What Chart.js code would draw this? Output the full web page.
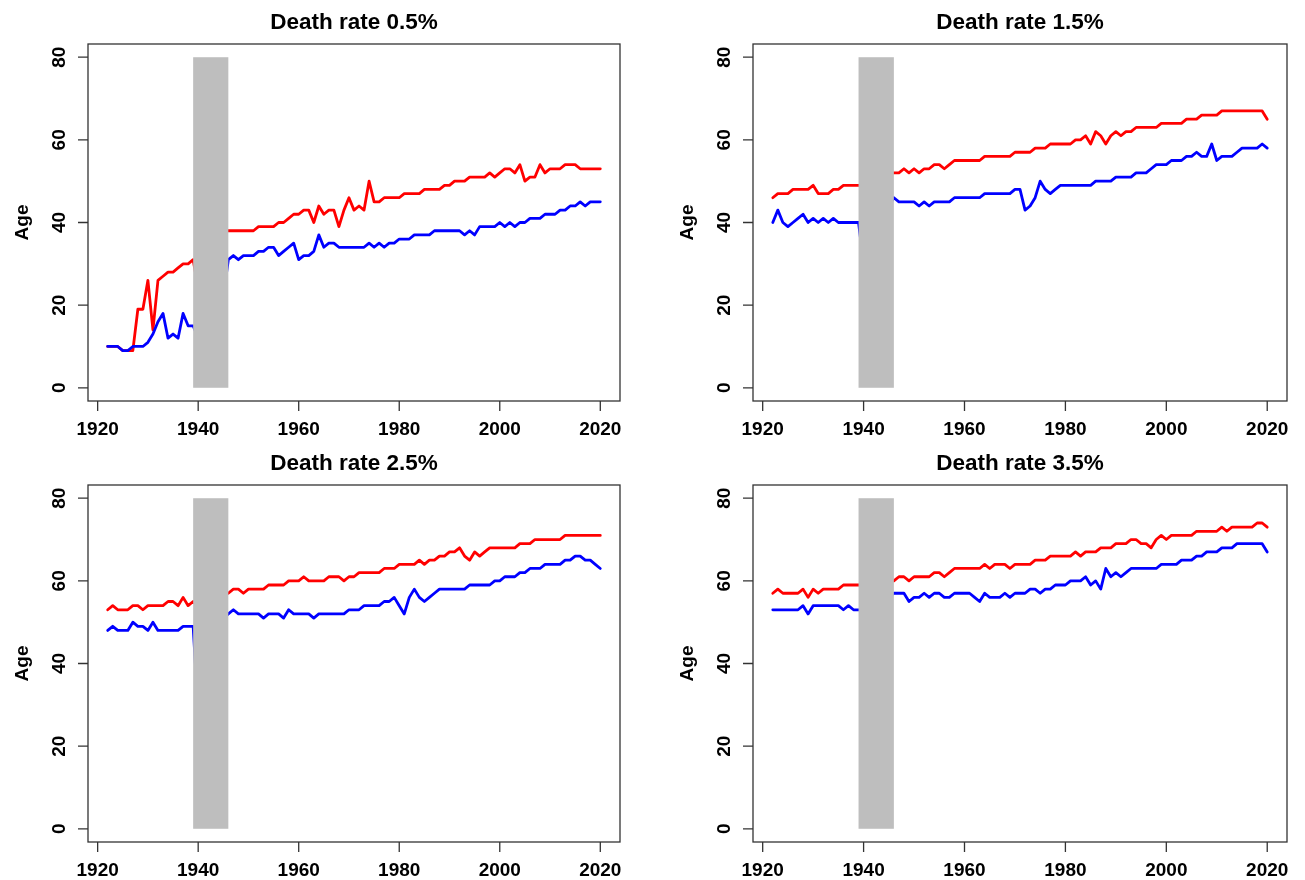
<!DOCTYPE html>
<html>
<head>
<meta charset="utf-8">
<title>Death rate panels</title>
<script src="https://cdn.jsdelivr.net/npm/chart.js@4/dist/chart.umd.min.js"></script>
<style>
  body { margin: 0; background: #fff; }
  #wrap { position: relative; width: 1305px; height: 880px; }
  canvas { position: absolute; }
</style>
</head>
<body>
<div id="wrap">
  <canvas id="p1" width="652" height="440" style="left:0;top:0"></canvas>
  <canvas id="p2" width="640" height="440" style="left:665px;top:0"></canvas>
  <canvas id="p3" width="652" height="439" style="left:0;top:441px"></canvas>
  <canvas id="p4" width="640" height="439" style="left:665px;top:441px"></canvas>
</div>
<script>
const years = [
  1922, 1923, 1924, 1925, 1926, 1927, 1928, 1929, 1930, 1931,
  1932, 1933, 1934, 1935, 1936, 1937, 1938, 1939, 1940, 1941,
  1942, 1943, 1944, 1945, 1946, 1947, 1948, 1949, 1950, 1951,
  1952, 1953, 1954, 1955, 1956, 1957, 1958, 1959, 1960, 1961,
  1962, 1963, 1964, 1965, 1966, 1967, 1968, 1969, 1970, 1971,
  1972, 1973, 1974, 1975, 1976, 1977, 1978, 1979, 1980, 1981,
  1982, 1983, 1984, 1985, 1986, 1987, 1988, 1989, 1990, 1991,
  1992, 1993, 1994, 1995, 1996, 1997, 1998, 1999, 2000, 2001,
  2002, 2003, 2004, 2005, 2006, 2007, 2008, 2009, 2010, 2011,
  2012, 2013, 2014, 2015, 2016, 2017, 2018, 2019, 2020
];

// death rate 0.5%
const red05 = [
  10, 10, 10, 9, 9, 9, 19, 19, 26, 14,
  26, 27, 28, 28, 29, 30, 30, 31, 24, 33,
  35, 36, 37, 38, 38, 38, 38, 38, 38, 38,
  39, 39, 39, 39, 40, 40, 41, 42, 42, 43,
  43, 40, 44, 42, 43, 43, 39, 43, 46, 43,
  44, 43, 50, 45, 45, 46, 46, 46, 46, 47,
  47, 47, 47, 48, 48, 48, 48, 49, 49, 50,
  50, 50, 51, 51, 51, 51, 52, 51, 52, 53,
  53, 52, 54, 50, 51, 51, 54, 52, 53, 53,
  53, 54, 54, 54, 53, 53, 53, 53, 53
];
const blue05 = [
  10, 10, 10, 9, 9, 10, 10, 10, 11, 13,
  16, 18, 12, 13, 12, 18, 15, 15, 12, 20,
  24, 27, 29, 22, 31, 32, 31, 32, 32, 32,
  33, 33, 34, 34, 32, 33, 34, 35, 31, 32,
  32, 33, 37, 34, 35, 35, 34, 34, 34, 34,
  34, 34, 35, 34, 35, 34, 35, 35, 36, 36,
  36, 37, 37, 37, 37, 38, 38, 38, 38, 38,
  38, 37, 38, 37, 39, 39, 39, 39, 40, 39,
  40, 39, 40, 40, 41, 41, 41, 42, 42, 42,
  43, 43, 44, 44, 45, 44, 45, 45, 45
];

// death rate 1.5%
const red15 = [
  46, 47, 47, 47, 48, 48, 48, 48, 49, 47,
  47, 47, 48, 48, 49, 49, 49, 49, 49, 50,
  50, 51, 51, 52, 52, 52, 53, 52, 53, 52,
  53, 53, 54, 54, 53, 54, 55, 55, 55, 55,
  55, 55, 56, 56, 56, 56, 56, 56, 57, 57,
  57, 57, 58, 58, 58, 59, 59, 59, 59, 59,
  60, 60, 61, 59, 62, 61, 59, 61, 62, 61,
  62, 62, 63, 63, 63, 63, 63, 64, 64, 64,
  64, 64, 65, 65, 65, 66, 66, 66, 66, 67,
  67, 67, 67, 67, 67, 67, 67, 67, 65
];
const blue15 = [
  40, 43, 40, 39, 40, 41, 42, 40, 41, 40,
  41, 40, 41, 40, 40, 40, 40, 40, 30, 38,
  41, 43, 44, 44, 46, 45, 45, 45, 45, 44,
  45, 44, 45, 45, 45, 45, 46, 46, 46, 46,
  46, 46, 47, 47, 47, 47, 47, 47, 48, 48,
  43, 44, 46, 50, 48, 47, 48, 49, 49, 49,
  49, 49, 49, 49, 50, 50, 50, 50, 51, 51,
  51, 51, 52, 52, 52, 53, 54, 54, 54, 55,
  55, 55, 56, 56, 57, 56, 56, 59, 55, 56,
  56, 56, 57, 58, 58, 58, 58, 59, 58
];

// death rate 2.5%
const red25 = [
  53, 54, 53, 53, 53, 54, 54, 53, 54, 54,
  54, 54, 55, 55, 54, 56, 54, 55, 54, 55,
  56, 56, 57, 57, 57, 58, 58, 57, 58, 58,
  58, 58, 59, 59, 59, 59, 60, 60, 60, 61,
  60, 60, 60, 60, 61, 61, 61, 60, 61, 61,
  62, 62, 62, 62, 62, 63, 63, 63, 64, 64,
  64, 64, 65, 64, 65, 65, 66, 66, 67, 67,
  68, 66, 65, 67, 66, 67, 68, 68, 68, 68,
  68, 68, 69, 69, 69, 70, 70, 70, 70, 70,
  70, 71, 71, 71, 71, 71, 71, 71, 71
];
const blue25 = [
  48, 49, 48, 48, 48, 50, 49, 49, 48, 50,
  48, 48, 48, 48, 48, 49, 49, 49, 28, 40,
  45, 48, 50, 51, 52, 53, 52, 52, 52, 52,
  52, 51, 52, 52, 52, 51, 53, 52, 52, 52,
  52, 51, 52, 52, 52, 52, 52, 52, 53, 53,
  53, 54, 54, 54, 54, 55, 55, 56, 54, 52,
  56, 58, 56, 55, 56, 57, 58, 58, 58, 58,
  58, 58, 59, 59, 59, 59, 59, 60, 60, 61,
  61, 61, 62, 62, 63, 63, 63, 64, 64, 64,
  64, 65, 65, 66, 66, 65, 65, 64, 63
];

// death rate 3.5%
const red35 = [
  57, 58, 57, 57, 57, 57, 58, 56, 58, 57,
  58, 58, 58, 58, 59, 59, 59, 59, 59, 59,
  60, 60, 60, 60, 60, 61, 61, 60, 61, 61,
  61, 61, 62, 62, 61, 62, 63, 63, 63, 63,
  63, 63, 64, 63, 64, 64, 64, 63, 64, 64,
  64, 64, 65, 65, 65, 66, 66, 66, 66, 66,
  67, 66, 67, 67, 67, 68, 68, 68, 69, 69,
  69, 70, 70, 69, 69, 68, 70, 71, 70, 71,
  71, 71, 71, 71, 72, 72, 72, 72, 72, 73,
  72, 73, 73, 73, 73, 73, 74, 74, 73
];
const blue35 = [
  53, 53, 53, 53, 53, 53, 54, 52, 54, 54,
  54, 54, 54, 54, 53, 54, 53, 53, 53, 54,
  55, 55, 56, 56, 57, 57, 57, 55, 56, 56,
  57, 56, 57, 57, 56, 56, 57, 57, 57, 57,
  56, 55, 57, 56, 56, 56, 57, 56, 57, 57,
  57, 58, 58, 57, 58, 58, 59, 59, 59, 60,
  60, 60, 61, 59, 60, 58, 63, 61, 62, 61,
  62, 63, 63, 63, 63, 63, 63, 64, 64, 64,
  64, 65, 65, 65, 66, 66, 67, 67, 67, 68,
  68, 68, 69, 69, 69, 69, 69, 69, 67
];

const xTicks = [1920, 1940, 1960, 1980, 2000, 2020];
const yTicks = [0, 20, 40, 60, 80];
const shadeYears = [1939, 1946];   // grey band
const shadeAges = [0, 80];

const panels = [
  { id: 'p1', title: 'Death rate 0.5%', red: red05, blue: blue05, padRight: 32, padBottom: 39 },
  { id: 'p2', title: 'Death rate 1.5%', red: red15, blue: blue15, padRight: 18, padBottom: 39 },
  { id: 'p3', title: 'Death rate 2.5%', red: red25, blue: blue25, padRight: 32, padBottom: 38 },
  { id: 'p4', title: 'Death rate 3.5%', red: red35, blue: blue35, padRight: 18, padBottom: 38 }
];

const FONT = '"Liberation Sans", Arial, Helvetica, sans-serif';

// base-graphics look: grey band over the lines, box, ticks, labels
const rFrame = {
  id: 'rFrame',
  afterDatasetsDraw(chart, args, opts) {
    const ctx = chart.ctx;
    const xs = chart.scales.x;
    const ys = chart.scales.y;
    const a = chart.chartArea;

    ctx.save();
    const bx0 = xs.getPixelForValue(shadeYears[0]);
    const bx1 = xs.getPixelForValue(shadeYears[1]);
    const by0 = ys.getPixelForValue(shadeAges[0]);
    const by1 = ys.getPixelForValue(shadeAges[1]);
    ctx.fillStyle = '#bebebe';
    ctx.fillRect(bx0, by1, bx1 - bx0, by0 - by1);

    ctx.strokeStyle = '#333';
    ctx.lineWidth = 1.3;
    ctx.strokeRect(a.left, a.top, a.right - a.left, a.bottom - a.top);

    ctx.fillStyle = '#000';
    ctx.font = 'bold 19px ' + FONT;
    ctx.textAlign = 'center';
    ctx.textBaseline = 'alphabetic';

    ctx.beginPath();
    xTicks.forEach(v => {
      const px = xs.getPixelForValue(v);
      ctx.moveTo(px, a.bottom);
      ctx.lineTo(px, a.bottom + 10);
      ctx.fillText(String(v), px, a.bottom + 34);
    });
    yTicks.forEach(v => {
      const py = ys.getPixelForValue(v);
      ctx.moveTo(a.left, py);
      ctx.lineTo(a.left - 10, py);
    });
    ctx.stroke();

    yTicks.forEach(v => {
      const py = ys.getPixelForValue(v);
      ctx.save();
      ctx.translate(a.left - 23, py);
      ctx.rotate(-Math.PI / 2);
      ctx.fillText(String(v), 0, 0);
      ctx.restore();
    });

    ctx.save();
    ctx.translate(a.left - 60, (a.top + a.bottom) / 2);
    ctx.rotate(-Math.PI / 2);
    ctx.fillText('Age', 0, 0);
    ctx.restore();

    ctx.font = 'bold 22.5px ' + FONT;
    ctx.fillText(opts.title, (a.left + a.right) / 2, a.top - 15);
    ctx.restore();
  }
};

function makeChart(p) {
  const ctx = document.getElementById(p.id).getContext('2d');
  return new Chart(ctx, {
    type: 'line',
    data: {
      labels: years,
      // first dataset is painted last, so blue sits on top of red
      datasets: [
        { data: p.blue, borderColor: '#0000ff' },
        { data: p.red, borderColor: '#ff0000' }
      ]
    },
    options: {
      responsive: false,
      animation: false,
      devicePixelRatio: 1,
      parsing: false,
      normalized: true,
      datasets: {
        line: {
          borderWidth: 2.8,
          pointRadius: 0,
          tension: 0,
          borderJoinStyle: 'round',
          borderCapStyle: 'round'
        }
      },
      layout: { padding: { left: 88, top: 44, right: p.padRight, bottom: p.padBottom } },
      scales: {
        x: { type: 'linear', display: false, min: 1918.08, max: 2023.92 },
        y: { type: 'linear', display: false, min: -3.2, max: 83.2 }
      },
      plugins: {
        legend: { display: false },
        tooltip: { enabled: false },
        rFrame: { title: p.title }
      }
    },
    plugins: [rFrame]
  });
}

// parsing is off, so hand the points over as {x, y}
panels.forEach(p => {
  p.red = p.red.map((v, i) => ({ x: years[i], y: v }));
  p.blue = p.blue.map((v, i) => ({ x: years[i], y: v }));
  makeChart(p);
});
</script>
</body>
</html>
